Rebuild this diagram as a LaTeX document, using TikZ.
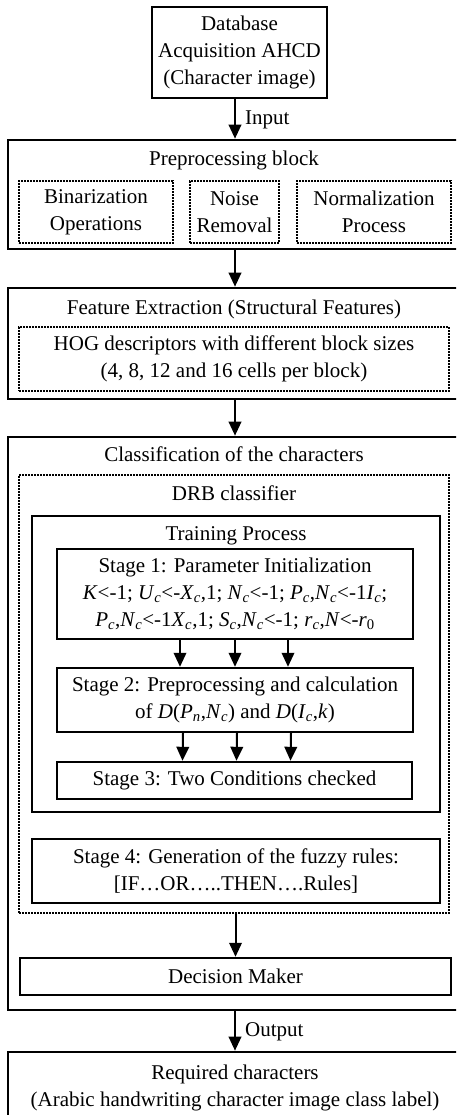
\documentclass[tikz,border=0pt]{standalone}
\usepackage{fontspec}
\setmainfont{Liberation Serif}
\usetikzlibrary{arrows.meta}

\newcommand{\iv}[2]{\textit{#1}\textsubscript{\textit{#2}}}

\tikzset{
  outer/.style={draw, line width=2.6pt, inner sep=0pt, align=center},
  inner/.style={draw, line width=2.4pt, inner sep=0pt, align=center},
  dotbox/.style={draw, line width=2pt, dash pattern=on 1.8pt off 1.2pt, inner sep=0pt, align=center},
  lbl/.style={anchor=base, inner sep=0pt},
  arr/.style={line width=2pt, -{Triangle[width=12.5pt,length=14pt]}}
}

\begin{document}
\begin{tikzpicture}[x=1pt,y=-1pt,font=\fontsize{21}{27}\selectfont]
\useasboundingbox (0,0) rectangle (456,1115);
\clip (0,0) rectangle (456,1115);

\node[outer, minimum width=175pt, minimum height=91pt] (db) at (239.5,52.5) {Database\\Acquisition AHCD\\(Character image)};

\node[outer, minimum width=454pt, minimum height=109pt] (pre) at (235,194.5) {};
\node[lbl] (pretitle) at (234,166) {Preprocessing block};
\node[dotbox, minimum width=154pt, minimum height=62pt] (bin) at (96,212) {Binarization\\Operations};
\node[dotbox, minimum width=89pt, minimum height=62pt] (noise) at (234.5,212) {Noise\\Removal};
\node[dotbox, minimum width=154pt, minimum height=62pt] (norm) at (374,212) {Normalization\\Process};

\node[outer, minimum width=454pt, minimum height=111pt] (fe) at (235,343.5) {};
\node[lbl] (fetitle) at (234,314) {Feature Extraction (Structural Features)};
\node[dotbox, minimum width=430pt, minimum height=64pt] (hog) at (234,359) {HOG descriptors with different block sizes\\(4, 8, 12 and 16 cells per block)};

\node[outer, minimum width=454pt, minimum height=573pt] (cls) at (235,723.5) {};
\node[lbl] (clstitle) at (234,461.5) {Classification of the characters};
\node[dotbox, minimum width=430pt, minimum height=438pt] (drb) at (234,694) {};
\node[lbl] (drbtitle) at (234,500) {DRB classifier};
\node[inner, line width=2.2pt, minimum width=408pt, minimum height=296pt] (train) at (236,664) {};
\node[lbl] (traintitle) at (236,540) {Training Process};
\node[inner, minimum width=356pt, minimum height=90pt] (st1) at (235,594) {Stage 1: Parameter Initialization\\\textit{K}<-1; \iv{U}{c}<-\iv{X}{c},1; \iv{N}{c}<-1; \iv{P}{c},\iv{N}{c}<-1\iv{I}{c};\\\iv{P}{c},\iv{N}{c}<-1\iv{X}{c},1; \iv{S}{c},\iv{N}{c}<-1; \iv{r}{c},\textit{N}<-\textit{r}\textsubscript{0}};
\node[inner, minimum width=356pt, minimum height=64pt] (st2) at (235,700) {Stage 2: Preprocessing and calculation\\of \textit{D}(\iv{P}{n},\iv{N}{c}) and \textit{D}(\iv{I}{c},\textit{k})};
\node[inner, minimum width=355pt, minimum height=37pt] (st3) at (234.5,780.5) {Stage 3: Two Conditions checked};
\node[inner, minimum width=408pt, minimum height=64pt] (st4) at (236,871) {Stage 4: Generation of the fuzzy rules:\\{[}IF…OR…..THEN….Rules{]}};
\node[inner, minimum width=431pt, minimum height=37pt] (dm) at (235.5,976.5) {Decision Maker};

\node[outer, minimum width=454pt, minimum height=72pt] (req) at (235,1088) {Required characters\\(Arabic handwriting character image class label)};

\draw[arr] (pre.north |- db.south) -- (pre.north);
\node[anchor=base west, inner sep=0pt] (inlbl) at (245,125) {Input};
\draw[arr] (pre.south) -- (fe.north);
\draw[arr] (fe.south) -- (cls.north);

\draw[arr] ([xshift=-55pt]st1.south) -- ([xshift=-55pt]st2.north);
\draw[arr] (st1.south) -- (st2.north);
\draw[arr] ([xshift=53pt]st1.south) -- ([xshift=53pt]st2.north);
\draw[arr] ([xshift=-52pt]st2.south) -- ([xshift=-52pt]st3.north);
\draw[arr] ([xshift=2pt]st2.south) -- ([xshift=2pt]st3.north);
\draw[arr] ([xshift=56pt]st2.south) -- ([xshift=56pt]st3.north);

\draw[arr] (dm.north |- drb.south) -- (dm.north);
\draw[arr] (cls.south) -- (req.north);
\node[anchor=base west, inner sep=0pt] (outlbl) at (245,1036.5) {Output};

\end{tikzpicture}
\end{document}
